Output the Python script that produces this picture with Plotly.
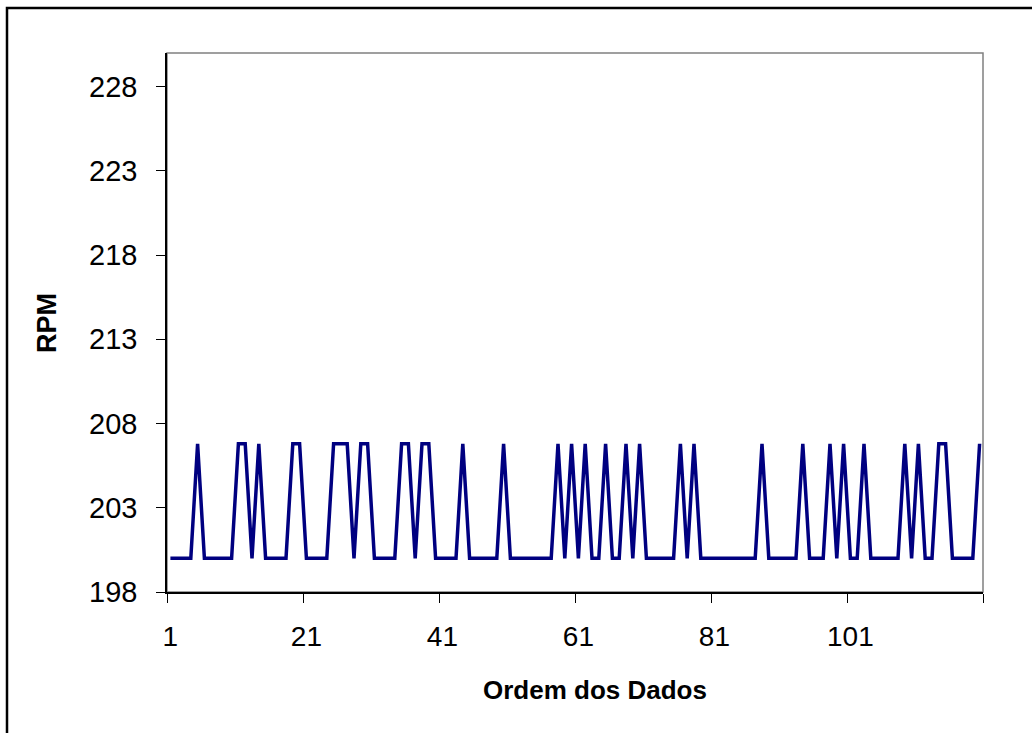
import plotly.graph_objects as go

# Data
order = list(range(1, 121))
high_points = [5, 11, 12, 14, 19, 20, 25, 26, 27, 29, 30, 35, 36, 38, 39, 44, 50,
               58, 60, 62, 65, 68, 70, 76, 78, 88, 94, 98, 100, 103, 109, 111,
               114, 115, 120]
low_value = 200.0
high_value = 206.8
rpm = [high_value if i in high_points else low_value for i in order]

x_tick_labels = [1, 21, 41, 61, 81, 101]
y_ticks = [198, 203, 208, 213, 218, 223, 228]
x_title = "Ordem dos Dados"
y_title = "RPM"

L, R, T, B = 167, 49, 53, 141
W, H = 1032, 733
pw, ph = W - L - R, H - T - B

def px_to_paper_x(px):
    return (px - L) / pw

def px_to_paper_y(py):
    return (H - B - py) / ph

font_family = "Arial, Liberation Sans, sans-serif"

fig = go.Figure()
fig.add_trace(go.Scatter(
    x=order, y=rpm, mode="lines",
    line=dict(color="#000080", width=3.5),
    showlegend=False, hoverinfo="x+y",
))

fig.update_layout(
    width=W, height=H,
    margin=dict(l=L, r=R, t=T, b=B, pad=0),
    paper_bgcolor="white", plot_bgcolor="white",
    font=dict(family=font_family, color="black", size=28),
    xaxis=dict(
        range=[0.5, 120.5],
        tickmode="array", tickvals=x_tick_labels,
        ticktext=[str(v) for v in x_tick_labels],
        ticks="outside", ticklen=9, tickcolor="rgba(0,0,0,0)",
        ticklabelstandoff=10,
        minor=dict(tickmode="linear", tick0=0.5, dtick=20, ticks="outside",
                   ticklen=9, tickcolor="black", tickwidth=1, showgrid=False),
        showgrid=False, zeroline=False,
        showline=True, linecolor="black", linewidth=1.5,
        tickfont=dict(size=28),
    ),
    yaxis=dict(
        range=[198, 230],
        tickmode="array", tickvals=y_ticks,
        ticks="outside", ticklen=9, tickcolor="black", tickwidth=1,
        ticklabelstandoff=13,
        showgrid=False, zeroline=False,
        showline=True, linecolor="black", linewidth=1.5,
        tickfont=dict(size=29),
    ),
    annotations=[
        dict(text="<b>%s</b>" % x_title, xref="paper", yref="paper",
             x=px_to_paper_x(595), y=px_to_paper_y(690),
             xanchor="center", yanchor="middle", showarrow=False,
             font=dict(size=26)),
        dict(text="<b>%s</b>" % y_title, xref="paper", yref="paper",
             x=px_to_paper_x(47), y=px_to_paper_y(323),
             xanchor="center", yanchor="middle", showarrow=False,
             textangle=-90, font=dict(size=27)),
    ],
    shapes=[
        dict(type="rect", xref="paper", yref="paper", x0=0, y0=0, x1=1, y1=1,
             line=dict(color="#808080", width=1.5), layer="below"),
        dict(type="rect", xref="paper", yref="paper",
             x0=px_to_paper_x(7), y0=px_to_paper_y(760),
             x1=px_to_paper_x(1060), y1=px_to_paper_y(8),
             line=dict(color="black", width=2.5), layer="above"),
    ],
)

fig.write_html("out.html", config={"displayModeBar": False},
               post_script="document.body.style.margin='0';")
